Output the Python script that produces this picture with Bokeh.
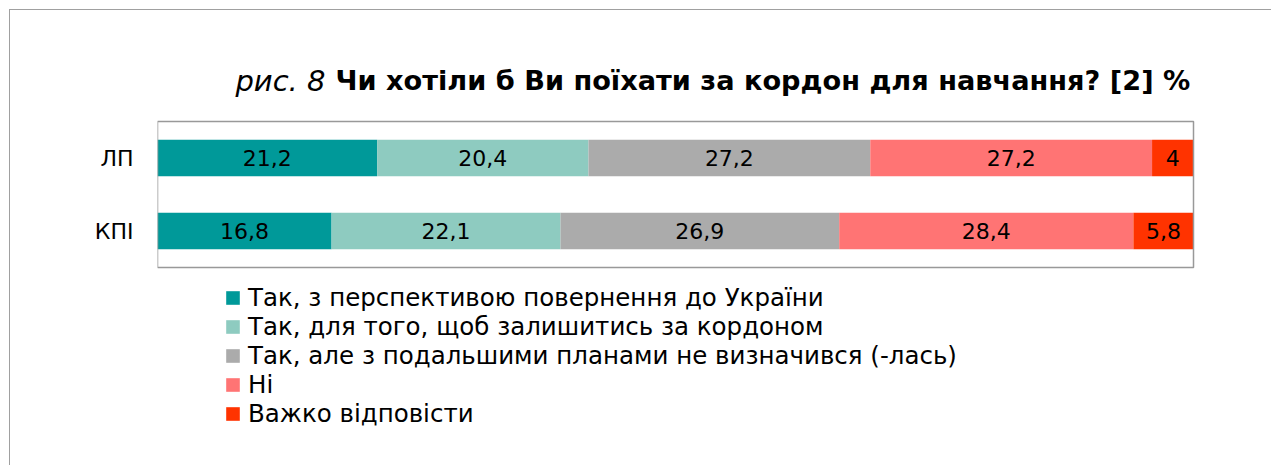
from bokeh.plotting import figure
from bokeh.models import ColumnDataSource, Legend, LegendItem, Label, LabelSet, Range1d, FixedTicker
from bokeh.core.properties import value
from bokeh.embed import file_html
from bokeh.resources import INLINE

groups = ["КПІ", "ЛП"]
group_pos = [0.5, 1.5]
answers = [
    "Так, з перспективою повернення до України",
    "Так, для того, щоб залишитись за кордоном",
    "Так, але з подальшими планами не визначився (-лась)",
    "Ні",
    "Важко відповісти",
]
keys = ["a", "b", "c", "d", "e"]
values_lp = [21.2, 20.4, 27.2, 27.2, 4]
values_kpi = [16.8, 22.1, 26.9, 28.4, 5.8]
colors = ["#009999", "#8ECBC0", "#ABABAB", "#FF7474", "#FF3300"]

FONT = "DejaVu Sans"

W, H = 1262, 456
LEFT = 147
frame_w = W - LEFT
px_x = 10.36
px_y = 73.0
plot_bottom_off = 466 - 267   # frame bottom to plot box bottom
plot_top_off = 267 - 10

data = {"y": group_pos}
for i, k in enumerate(keys):
    data[k] = [values_kpi[i], values_lp[i]]
src = ColumnDataSource(data)

p = figure(x_range=Range1d(0, frame_w / px_x), y_range=Range1d(-plot_bottom_off / px_y, plot_top_off / px_y),
           width=W, height=H, output_backend="svg", toolbar_location=None,
           min_border_left=LEFT, min_border_right=0, min_border_top=0, min_border_bottom=0)
p.styles = {"margin-left": "9px", "margin-top": "9px",
            "border-top": "1px solid #A0A0A0", "border-left": "1px solid #A0A0A0"}
p.outline_line_color = None

renderers = p.hbar_stack(keys, y="y", height=0.5, color=colors, source=src, line_width=0)

# plot area box
p.quad(left=[0], right=[100], bottom=[0], top=[len(groups)], fill_color=None,
       line_color="#999999", line_width=1.5)

# data labels
lx, ly, lt = [], [], []
for g, vals in zip(group_pos, [values_kpi, values_lp]):
    acc = 0
    for v in vals:
        lx.append(acc + v / 2)
        ly.append(g)
        lt.append(str(v).replace(".", ","))
        acc += v
lsrc = ColumnDataSource(dict(x=lx, y=ly, t=lt))
p.add_layout(LabelSet(x="x", y="y", text="t", source=lsrc, text_align="center", text_baseline="middle",
                      text_font=value(FONT), text_font_size=value("22px"), text_color="#000000"))

p.xaxis.visible = False
p.xgrid.visible = False
p.ygrid.visible = False
p.yaxis.ticker = FixedTicker(ticks=group_pos)
p.yaxis.major_label_overrides = {pos: g for pos, g in zip(group_pos, groups)}
p.yaxis.axis_line_color = None
p.yaxis.major_tick_line_color = None
p.yaxis.minor_tick_line_color = None
p.yaxis.major_label_text_font = FONT
p.yaxis.major_label_text_font_size = "22px"
p.yaxis.major_label_text_color = "#000000"
p.yaxis.major_label_standoff = 18

items = [LegendItem(label=a, renderers=[r]) for a, r in zip(answers, renderers)]
legend = Legend(items=items, location=(67, 38), border_line_color=None, background_fill_alpha=0,
                label_text_font=FONT, label_text_font_size="24.5px", label_text_color="#000000",
                glyph_width=17, glyph_height=17,
                label_height=20, spacing=0, label_standoff=7, padding=0, margin=0)
p.add_layout(legend, "center")

p.add_layout(Label(x=168, y=386, x_units="screen", y_units="screen", text="рис. 8",
                   text_align="right", text_baseline="alphabetic",
                   text_font=FONT, text_font_style="italic", text_font_size="29px", text_color="#000000"))
p.add_layout(Label(x=178, y=386, x_units="screen", y_units="screen",
                   text="Чи хотіли б Ви поїхати за кордон для навчання? [2] %", text_baseline="alphabetic",
                   text_font=FONT, text_font_style="bold", text_font_size="27.2px", text_color="#000000"))

open("out.html", "w").write(file_html(p, INLINE))
